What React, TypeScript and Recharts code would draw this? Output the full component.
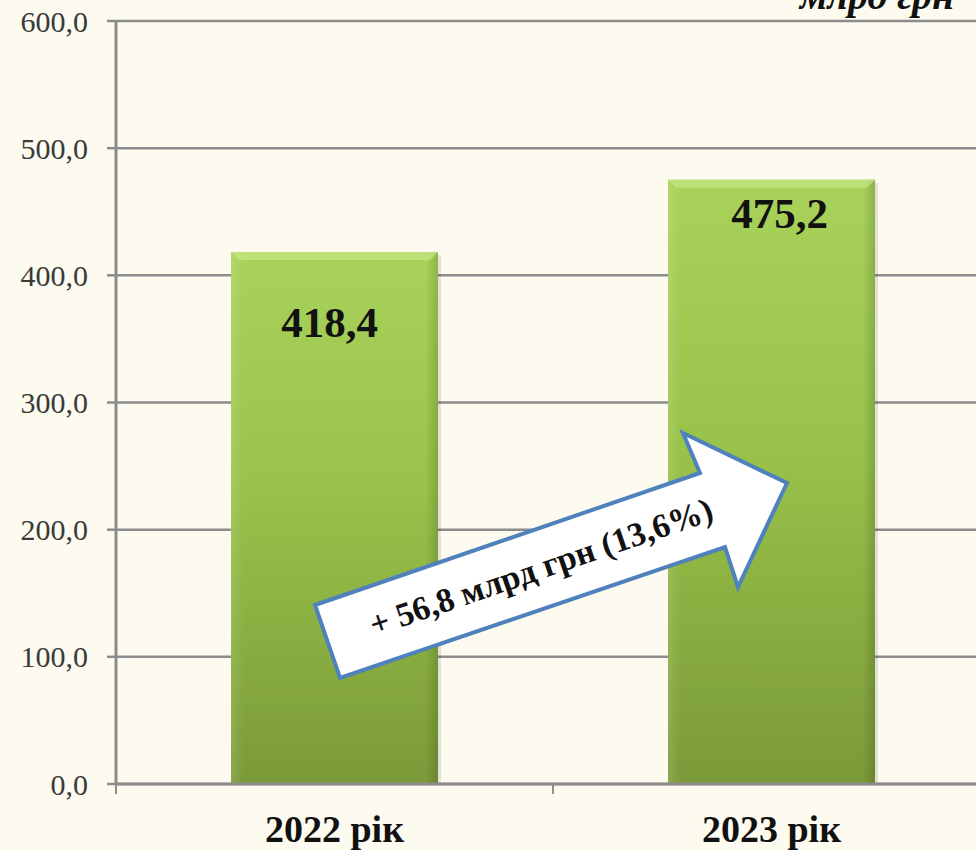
import React from "react"
import { Bar, BarChart, CartesianGrid, LabelList, XAxis, YAxis } from "recharts"

const categories = ["2022 рік", "2023 рік"]
const values = [418.4, 475.2]
const yTicks = [0, 100, 200, 300, 400, 500, 600]
const unitLabel = "млрд грн"
const growthLabel = "+ 56,8 млрд грн (13,6%)"

const data = categories.map((year, i) => ({ year, value: values[i] }))

const CHART_W = 990
const CHART_H = 850
const Y_AXIS_W = 116
const BAND = (CHART_W - Y_AXIS_W) / categories.length
const LABEL_SHIFT = [{ dx: -5, dy: 85 }, { dx: 8, dy: 48 }]
const FONT = '"Liberation Serif", "Times New Roman", serif'
const GRID = "#8c8c8c"

const fmt = (v: number) => v.toFixed(1).replace(".", ",")

function BevelBar(props: any) {
  const { x, y, width, height, index } = props
  if (!height || height <= 0) return null
  const b = 8
  const id = `bar-${index}`
  return (
    <g>
      <defs>
        <linearGradient id={`${id}-v`} x1="0" y1="0" x2="0" y2="1">
          <stop offset="0%" stopColor="#a9d25a" />
          <stop offset="45%" stopColor="#98c24a" />
          <stop offset="100%" stopColor="#7b9a38" />
        </linearGradient>
        <linearGradient id={`${id}-h`} x1="0" y1="0" x2="1" y2="0">
          <stop offset="0%" stopColor="#ffffff" stopOpacity={0.12} />
          <stop offset="6%" stopColor="#ffffff" stopOpacity={0} />
          <stop offset="94%" stopColor="#000000" stopOpacity={0} />
          <stop offset="100%" stopColor="#000000" stopOpacity={0.15} />
        </linearGradient>
      </defs>
      <rect x={x + 3} y={y + 3} width={width} height={height - 3} fill="#000" opacity={0.1} />
      <rect x={x} y={y} width={width} height={height} fill={`url(#${id}-v)`} />
      <rect x={x} y={y} width={width} height={height} fill={`url(#${id}-h)`} />
      <polygon
        points={`${x},${y} ${x + width},${y} ${x + width - b},${y + b} ${x + b},${y + b}`}
        fill="#c6e585"
        opacity={0.75}
      />
    </g>
  )
}

function ValueLabel(props: any) {
  const { x, y, width, value, index } = props
  const s = LABEL_SHIFT[index] || { dx: 0, dy: 40 }
  return (
    <text
      x={x + width / 2 + s.dx}
      y={y + s.dy}
      textAnchor="middle"
      fontFamily={FONT}
      fontWeight="bold"
      fontSize={43}
      fill="#111"
    >
      {fmt(value)}
    </text>
  )
}

function YearTick({ x, y, payload }: any) {
  return (
    <g>
      <line x1={x - BAND / 2} y1={y} x2={x - BAND / 2} y2={y + 10} stroke={GRID} strokeWidth={2} />
      <text x={x} y={y + 58} textAnchor="middle" fontFamily={FONT} fontWeight="bold" fontSize={38} fill="#111">
        {payload.value}
      </text>
    </g>
  )
}

export default function App() {
  return (
    <div
      style={{
        position: "fixed",
        left: 0,
        top: 0,
        width: 976,
        height: 850,
        overflow: "hidden",
        background: "#fdfbef",
      }}
    >
      <BarChart width={CHART_W} height={CHART_H} data={data} margin={{ top: 21, right: 0, bottom: 0, left: 0 }}>
        <CartesianGrid vertical={false} stroke={GRID} strokeWidth={2.5} />
        <YAxis
          width={Y_AXIS_W}
          domain={[0, 600]}
          ticks={yTicks}
          tickFormatter={fmt}
          axisLine={{ stroke: GRID, strokeWidth: 3 }}
          tickLine={{ stroke: GRID, strokeWidth: 2.5 }}
          tickSize={9}
          tickMargin={19}
          tick={{ fill: "#3a3a3a", fontSize: 30, fontFamily: FONT }}
        />
        <XAxis
          dataKey="year"
          height={66}
          axisLine={{ stroke: GRID, strokeWidth: 3 }}
          tickLine={false}
          tickSize={0}
          tickMargin={0}
          tick={<YearTick />}
          interval={0}
        />
        <Bar dataKey="value" barSize={207} shape={<BevelBar />} isAnimationActive={false}>
          <LabelList dataKey="value" content={<ValueLabel />} />
        </Bar>
      </BarChart>
      <svg width={976} height={850} style={{ position: "absolute", left: 0, top: 0, pointerEvents: "none" }}>
        <text x={800} y={9} fontFamily={FONT} fontWeight="bold" fontStyle="italic" fontSize={40} fill="#111">
          {unitLabel}
        </text>
        <polygon
          points="315,605 700,473 683,433 787,483 738,587 725,547 340,678"
          fill="#ffffff"
          stroke="#4f81bd"
          strokeWidth={4}
          strokeLinejoin="miter"
        />
        <text
          x={541}
          y={567}
          textAnchor="middle"
          dominantBaseline="central"
          transform="rotate(-19 541 567)"
          fontFamily={FONT}
          fontWeight="bold"
          fontSize={34}
          fill="#111"
        >
          {growthLabel}
        </text>
      </svg>
    </div>
  )
}
